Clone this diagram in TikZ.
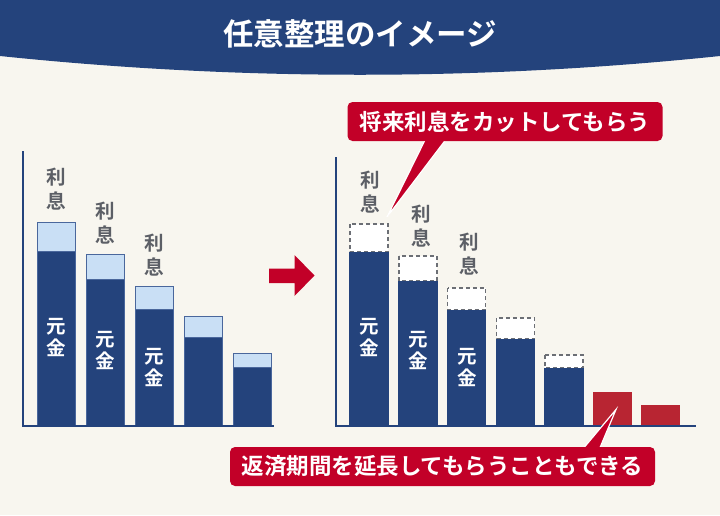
\documentclass[tikz,border=0pt]{standalone}
\usepackage{fontspec}
\newfontfamily\jpfont[BoldFont={Noto Sans CJK JP Bold}]{Noto Sans CJK JP}
\usetikzlibrary{positioning}
\definecolor{navy}{HTML}{24437C}
\definecolor{navyedge}{HTML}{4A679C}
\definecolor{sky}{HTML}{C9DFF5}
\definecolor{cream}{HTML}{F8F6EF}
\definecolor{crimson}{HTML}{C20028}
\definecolor{brick}{HTML}{B82532}
\definecolor{slate}{HTML}{5C5F66}

\begin{document}
\begin{tikzpicture}[x=1pt, y=-1pt,
    rikoku/.style={font=\jpfont\bfseries\fontsize{19.5}{24}\selectfont, align=center, inner sep=0pt, text=slate},
    genkin/.style={font=\jpfont\bfseries\fontsize{19.5}{22}\selectfont, align=center, inner sep=0pt, text=white},
    callout/.style={fill=crimson, rounded corners=5pt, text=white, inner sep=0pt,
      minimum height=39pt, font=\jpfont\bfseries\fontsize{22.5}{24}\selectfont},
    axisline/.style={navy, line width=2.6pt}]
  \useasboundingbox (0,0) rectangle (720,515);
  \fill[cream] (0,0) rectangle (720,515);
  % Banner
  \fill[navy] (0,0) -- (720,0) -- (720,56) .. controls (480,81) and (240,81) .. (0,56) -- cycle;
  \node[font=\jpfont\bfseries\fontsize{30.5}{32}\selectfont, text=white] (title) at (360,34) {任意整理のイメージ};

  % left chart
  \foreach \x/\t/\m in {37.5/222/251, 86.5/254/279, 135/286/309, 184/316/337, 233/353/367}{
    \filldraw[fill=sky, draw=navyedge, line width=0.8pt] (\x,\t) rectangle (\x+38,\m);
    \filldraw[fill=navy, draw=navyedge, line width=0.8pt] (\x,\m) rectangle (\x+38,426);
  }
  \draw[axisline] (23,151) -- (23,426) -- (274,426);
  \node[rikoku] (lri1) at (56.5,189) {利\\息};
  \node[rikoku] (lri2) at (105.5,223.5) {利\\息};
  \node[rikoku] (lri3) at (154,255) {利\\息};
  \node[genkin] (lgk1) at (56.5,337.5) {元\\金};
  \node[genkin] (lgk2) at (105.5,350.5) {元\\金};
  \node[genkin] (lgk3) at (154,367) {元\\金};

  % Arrow
  \fill[crimson] (269,268.5) -- (294.5,268.5) -- (294.5,255) -- (314.5,275.5)
    -- (294.5,296) -- (294.5,283) -- (269,283) -- cycle;

  % right chart
  \foreach \x/\t/\m in {350/224/252, 399/256/281, 447.5/288/310, 496.5/318/339, 545/355/368}{
    \draw[fill=white, draw=slate!90, dash pattern=on 4pt off 3pt, line width=1.4pt] (\x,\t) rectangle (\x+38,\m);
    \fill[navy] (\x-0.7,\m) rectangle (\x+38.7,426);
  }
  \fill[brick] (593,392) rectangle (631.5,426);
  \fill[brick] (641,404.5) rectangle (679.5,426);
  \draw[axisline] (336,157) -- (336,426) -- (696,426);
  \node[rikoku] (rri1) at (370,192.5) {利\\息};
  \node[rikoku] (rri2) at (421,226) {利\\息};
  \node[rikoku] (rri3) at (469.5,254.5) {利\\息};
  \node[genkin] (rgk1) at (369,337) {元\\金};
  \node[genkin] (rgk2) at (418.5,350.5) {元\\金};
  \node[genkin] (rgk3) at (467,367) {元\\金};

  % callouts
  \filldraw[fill=crimson, draw=white, line width=1.2pt] (426,138) -- (387,217) -- (447,138) -- cycle;
  \node[callout, minimum width=315pt] (cut) at (505,121.5) {将来利息をカットしてもらう};
  \filldraw[fill=crimson, draw=white, line width=1.2pt] (582,450) -- (616,409.5) -- (599,450) -- cycle;
  \node[callout, minimum width=425pt] (extend) at (442.5,466.5) {返済期間を延長してもらうこともできる};
\end{tikzpicture}
\end{document}
